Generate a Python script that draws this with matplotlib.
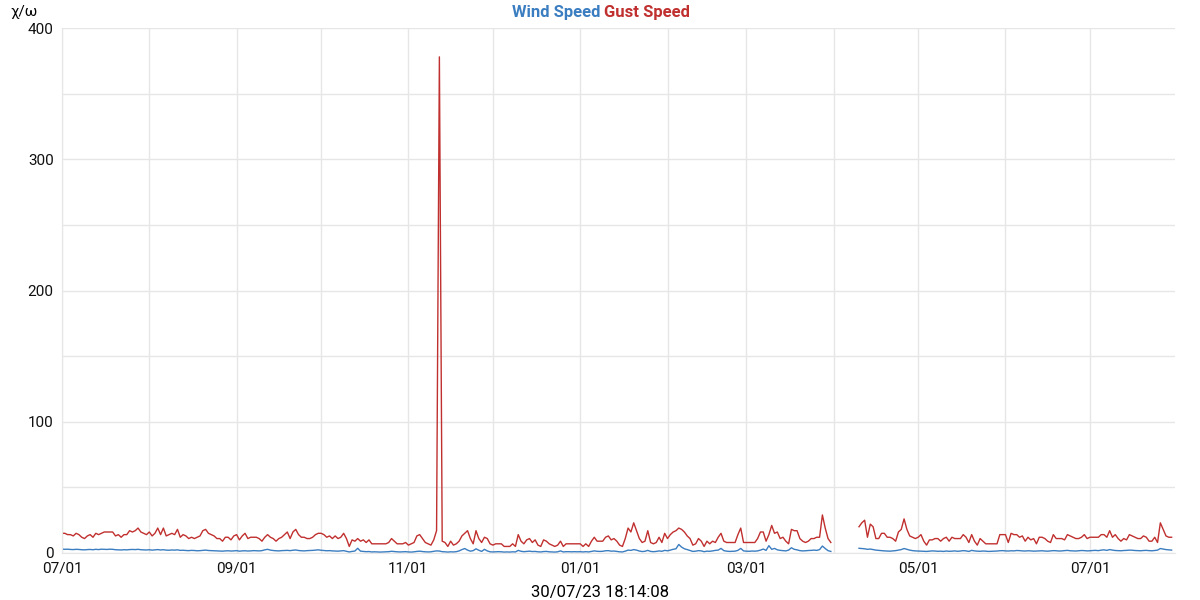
import numpy as np
import pandas as pd
import matplotlib
matplotlib.use('Agg')
import matplotlib.pyplot as plt
import matplotlib.dates as mdates

plt.rcParams['font.family'] = ['Roboto', 'DejaVu Sans']

# daily gust speed, 2022-07-01 .. 2023-03-31
gust_a = [
    15, 15, 14, 14, 13, 15, 14, 12, 11, 13,
    14, 12, 15, 14, 15, 16, 16, 16, 16, 13,
    14, 12, 14, 14, 17, 16, 17, 19, 16, 15,
    14, 16, 13, 15, 19, 14, 19, 13, 14, 15,
    14, 18, 12, 14, 13, 11, 12, 11, 12, 13,
    17, 18, 15, 14, 13, 11, 11, 9, 12, 12,
    10, 13, 14, 10, 13, 15, 11, 12, 12, 12,
    11, 9, 12, 14, 12, 11, 9, 11, 12, 14,
    16, 11, 16, 18, 14, 12, 12, 11, 11, 12,
    14, 15, 15, 14, 12, 13, 11, 13, 11, 12,
    15, 11, 5, 10, 9, 11, 9, 10, 8, 10,
    7, 7, 7, 7, 7, 7, 8, 11, 9, 7,
    7, 7, 8, 6, 7, 8, 13, 14, 11, 8,
    7, 6, 10, 17, 378, 9, 8, 5, 9, 6,
    7, 9, 13, 15, 17, 11, 7, 17, 11, 8,
    12, 11, 7, 6, 7, 7, 7, 5, 5, 5,
    7, 5, 14, 9, 7, 10, 11, 8, 10, 6,
    5, 10, 9, 7, 6, 5, 6, 9, 5, 7,
    7, 7, 7, 7, 7, 5, 7, 5, 9, 12,
    9, 9, 9, 12, 13, 10, 11, 9, 6, 5,
    11, 19, 16, 23, 17, 11, 8, 9, 17, 8,
    7, 8, 12, 8, 15, 11, 14, 16, 17, 19,
    18, 16, 13, 11, 6, 7, 11, 9, 5, 9,
    7, 9, 8, 12, 15, 9, 8, 8, 8, 8,
    14, 19, 8, 8, 8, 8, 8, 11, 16, 16,
    9, 14, 21, 15, 16, 11, 12, 9, 7, 18,
    17, 17, 11, 9, 8, 9, 11, 11, 12, 12,
    29, 19, 11, 8,
]
# daily gust speed, 2023-04-10 .. 2023-07-30
gust_b = [
    20, 23, 25, 12, 22, 20, 11, 11, 15, 15,
    12, 12, 11, 9, 16, 18, 26, 18, 13, 12,
    11, 12, 14, 9, 6, 10, 10, 11, 11, 9,
    11, 12, 9, 12, 11, 11, 11, 14, 12, 8,
    14, 9, 6, 11, 9, 7, 7, 7, 7, 7,
    14, 14, 14, 8, 15, 14, 14, 12, 13, 9,
    12, 10, 11, 7, 12, 12, 11, 9, 8, 14,
    11, 11, 11, 10, 14, 13, 12, 11, 11, 12,
    14, 11, 12, 12, 12, 12, 14, 14, 12, 17,
    12, 14, 11, 9, 11, 10, 14, 13, 12, 11,
    11, 13, 12, 9, 9, 12, 8, 23, 18, 13,
    12, 12,
]
wind_a = [
    3.0, 2.8, 2.9, 2.7, 2.6, 2.8, 2.7, 2.5, 2.4, 2.6,
    2.7, 2.5, 2.8, 2.6, 2.9, 2.8, 2.7, 2.9, 2.8, 2.5,
    2.4, 2.3, 2.5, 2.4, 2.6, 2.7, 2.6, 2.8, 2.5, 2.4,
    2.3, 2.5, 2.2, 2.4, 2.6, 2.3, 2.5, 2.2, 2.1, 2.3,
    2.2, 2.4, 2.0, 2.1, 1.9, 1.8, 2.0, 1.9, 1.7, 1.8,
    2.0, 2.2, 1.9, 1.8, 1.7, 1.6, 1.5, 1.4, 1.6, 1.7,
    1.5, 1.6, 1.8, 1.4, 1.6, 1.7, 1.5, 1.6, 1.8, 1.7,
    1.6, 1.8, 2.4, 2.8, 2.2, 1.9, 1.7, 1.6, 1.8, 1.9,
    2.0, 1.8, 2.1, 2.3, 1.9, 1.7, 1.6, 1.8, 1.9, 2.0,
    2.2, 2.4, 2.1, 1.9, 1.7, 1.8, 1.6, 1.5, 1.4, 1.6,
    1.8, 1.3, 0.8, 1.2, 1.5, 3.6, 1.4, 1.2, 1.0, 1.1,
    0.8, 0.9, 0.8, 0.7, 0.8, 0.9, 1.0, 1.3, 1.1, 0.9,
    0.8, 0.9, 1.0, 0.8, 0.7, 0.9, 1.2, 1.4, 1.1, 0.9,
    0.8, 0.9, 1.3, 1.6, 1.5, 1.0, 0.9, 0.7, 0.9, 0.8,
    1.0, 1.6, 2.6, 3.4, 2.2, 1.4, 1.8, 3.2, 2.1, 1.2,
    2.8, 1.6, 0.9, 0.8, 0.9, 1.0, 0.9, 0.7, 0.8, 0.7,
    0.9, 0.8, 2.0, 1.3, 1.0, 1.2, 1.4, 1.1, 1.2, 0.9,
    0.8, 1.1, 1.2, 0.9, 0.8, 0.7, 0.9, 1.6, 0.8, 1.0,
    1.0, 0.9, 1.0, 0.9, 1.0, 0.8, 1.0, 0.8, 1.2, 1.6,
    1.3, 1.2, 1.3, 1.7, 1.8, 1.4, 1.5, 1.2, 0.9, 0.8,
    1.4, 2.2, 2.0, 2.6, 2.2, 1.5, 1.1, 1.3, 2.0, 1.2,
    1.0, 1.2, 1.6, 1.3, 2.0, 1.7, 2.2, 2.8, 3.2, 6.5,
    4.5, 3.2, 2.6, 1.9, 1.2, 1.4, 1.8, 1.6, 1.0, 1.4,
    1.3, 1.6, 2.0, 2.2, 3.5, 1.8, 1.4, 1.2, 1.3, 1.4,
    2.0, 3.5, 1.6, 1.4, 1.3, 1.5, 1.4, 1.6, 2.2, 3.0,
    2.0, 5.6, 2.8, 3.5, 2.4, 2.0, 1.8, 1.6, 2.2, 4.0,
    2.8, 2.4, 1.8, 1.6, 1.7, 1.9, 2.0, 2.2, 2.0, 2.6,
    5.3, 3.4, 1.8, 1.2,
]
wind_b = [
    3.6, 3.4, 3.2, 2.8, 3.0, 2.6, 2.2, 2.0, 1.8, 1.6,
    1.5, 1.4, 1.6, 1.8, 2.2, 2.6, 3.4, 2.8, 2.2, 1.8,
    1.6, 1.5, 1.4, 1.3, 1.2, 1.4, 1.6, 1.5, 1.3, 1.4,
    1.2, 1.5, 1.3, 1.4, 1.6, 1.3, 1.5, 1.8, 1.6, 1.2,
    2.0, 1.6, 1.4, 1.3, 1.5, 1.4, 1.2, 1.3, 1.4, 1.5,
    1.7, 1.8, 1.6, 1.5, 1.7, 1.6, 1.9, 1.8, 1.6, 1.5,
    1.7, 1.6, 1.4, 1.5, 1.6, 1.7, 1.5, 1.4, 1.6, 1.8,
    1.7, 1.5, 1.6, 1.8, 2.0, 1.7, 1.6, 1.5, 1.7, 1.9,
    1.8, 1.6, 1.7, 1.9, 2.0, 1.8, 2.2, 2.4, 2.0, 2.6,
    2.2, 1.9, 1.8, 1.7, 1.9, 2.0, 2.2, 2.1, 1.9, 1.8,
    1.7, 1.9, 2.0, 1.8, 1.7, 1.9, 2.2, 3.4, 3.0, 2.6,
    2.4, 2.2,
]

blue = '#3a7dc0'
red = '#c0302f'

dates_a = pd.date_range('2022-07-01', periods=len(gust_a), freq='D')
dates_b = pd.date_range('2023-04-10', periods=len(gust_b), freq='D')

fig = plt.figure(figsize=(12, 6), dpi=100)
ax = fig.add_axes([62/1200, 1-553/600, (1175-62)/1200, (553-28)/600])

ax.plot(dates_a, gust_a, color=red, lw=1)
ax.plot(dates_b, gust_b, color=red, lw=1)
ax.plot(dates_a, wind_a[:len(dates_a)], color=blue, lw=1)
ax.plot(dates_b, wind_b[:len(dates_b)], color=blue, lw=1)

ax.set_xlim(pd.Timestamp('2022-07-01'), pd.Timestamp('2022-07-01') + pd.Timedelta(days=395.2))
ax.set_ylim(0, 400)
ax.set_yticks([0, 100, 200, 300, 400])
ax.set_yticks(np.arange(0, 401, 50), minor=True)
ax.xaxis.set_major_locator(mdates.MonthLocator(bymonth=[1, 3, 5, 7, 9, 11]))
ax.xaxis.set_major_formatter(mdates.DateFormatter('%m/%d'))
ax.xaxis.set_minor_locator(mdates.MonthLocator())
ax.grid(which='both', color='#e6e6e6', lw=1)
ax.set_axisbelow(True)
ax.tick_params(which='both', length=0, labelsize=11, colors='#111111')
ax.tick_params(axis='x', pad=6)
ax.tick_params(axis='y', pad=6)
for s in ['top', 'right']:
    ax.spines[s].set_visible(False)
for s in ['left', 'bottom']:
    ax.spines[s].set_color('#e6e6e6')

fig.text(0.5, 0.98, 'Wind Speed', ha='right', va='center', color=blue,
         fontsize=12, fontweight='bold')
fig.text(0.503, 0.98, 'Gust Speed', ha='left', va='center', color=red,
         fontsize=12, fontweight='bold')
fig.text(10/1200, 0.98, 'χ/ω', ha='left', va='center', fontsize=11)
fig.text(0.5, 1-592/600, '30/07/23 18:14:08', ha='center', va='center', fontsize=12)

fig.savefig('out.png', dpi=100)
